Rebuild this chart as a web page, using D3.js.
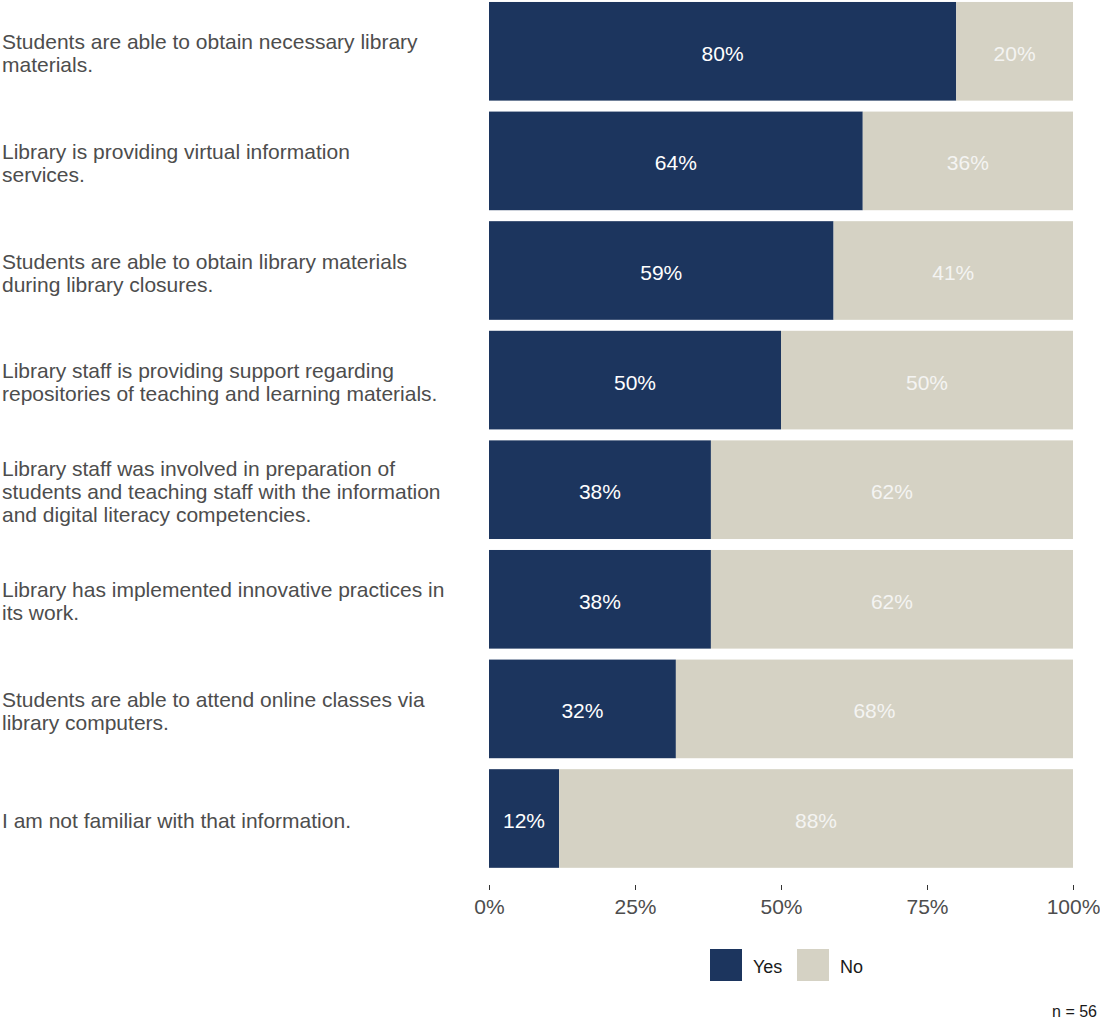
<!DOCTYPE html>
<html>
<head>
<meta charset="utf-8">
<script src="https://cdn.jsdelivr.net/npm/d3@7"></script>
<style>
  html, body { margin: 0; padding: 0; background: #ffffff; }
  svg { display: block; font-family: "Liberation Sans", Arial, sans-serif; }
</style>
</head>
<body>
<svg id="chart" width="1100" height="1021"></svg>
<script>
// Survey statements, one bar each (top to bottom), label lines pre-wrapped
const statements = [
  ["Students are able to obtain necessary library", "materials."],
  ["Library is providing virtual information", "services."],
  ["Students are able to obtain library materials", "during library closures."],
  ["Library staff is providing support regarding", "repositories of teaching and learning materials."],
  ["Library staff was involved in preparation of", "students and teaching staff with the information", "and digital literacy competencies."],
  ["Library has implemented innovative practices in", "its work."],
  ["Students are able to attend online classes via", "library computers."],
  ["I am not familiar with that information."]
];
// Share of answers, in percent
const yesValues = [80, 64, 59, 50, 38, 38, 32, 12];
const noValues  = [20, 36, 41, 50, 62, 62, 68, 88];
const answers = ["Yes", "No"];
const xTicks = [0, 25, 50, 75, 100];
const sampleNote = "n = 56";

const colors = { Yes: "#1c355e", No: "#d5d2c4" };
const labelColors = { Yes: "#ffffff", No: "#f4f4f2" };

const svg = d3.select("#chart");

const x = d3.scaleLinear().domain([0, 100]).range([489, 1073]);
const y = d3.scaleBand()
  .domain(d3.range(statements.length))
  .range([-3.5, 873.3])
  .paddingInner(0.1)
  .paddingOuter(0.05);

// stacked segments
const rows = statements.map((s, i) => ({ i, Yes: yesValues[i], No: noValues[i] }));
const stack = d3.stack().keys(answers)(rows);

const layers = svg.append("g").selectAll("g")
  .data(stack)
  .join("g")
  .attr("fill", d => colors[d.key]);

layers.selectAll("rect")
  .data(d => d.map(p => ({ key: d.key, p })))
  .join("rect")
  .attr("x", d => x(d.p[0]))
  .attr("width", d => x(d.p[1]) - x(d.p[0]))
  .attr("y", d => y(d.p.data.i))
  .attr("height", y.bandwidth());

// value labels centred in each segment
layers.selectAll("text")
  .data(d => d.map(p => ({ key: d.key, p })))
  .join("text")
  .attr("x", d => x((d.p[0] + d.p[1]) / 2))
  .attr("y", d => y(d.p.data.i) + y.bandwidth() / 2 + 2)
  .attr("dy", "0.36em")
  .attr("text-anchor", "middle")
  .attr("font-size", 21)
  .attr("fill", d => labelColors[d.key])
  .text(d => `${d.p.data[d.key]}%`);

// category labels on the left
const lineH = 23;
const cat = svg.append("g").attr("fill", "#4d4d4d").attr("font-size", 21);
statements.forEach((lines, i) => {
  const cy = y(i) + y.bandwidth() / 2;
  const t = cat.append("text").attr("x", 2);
  lines.forEach((ln, k) => {
    t.append("tspan")
      .attr("x", 2)
      .attr("y", cy + (k - (lines.length - 1) / 2) * lineH + 9.5)
      .text(ln);
  });
});

// bottom axis
const axis = svg.append("g")
  .attr("transform", "translate(0,885)")
  .call(d3.axisBottom(x).tickValues(xTicks).tickFormat(d => d + "%").tickSize(5).tickPadding(9));
axis.select(".domain").remove();
axis.selectAll(".tick line").attr("stroke", "#333333");
axis.selectAll(".tick text")
  .attr("fill", "#4d4d4d")
  .attr("font-size", 21)
  .attr("font-family", "Liberation Sans, Arial, sans-serif");

// legend
const legend = svg.append("g").attr("transform", "translate(710,949)");
const legendX = { Yes: 0, No: 87 };
answers.forEach(k => {
  const g = legend.append("g").attr("transform", `translate(${legendX[k]},0)`);
  g.append("rect").attr("width", 32).attr("height", 32).attr("fill", colors[k]);
  g.append("text")
    .attr("x", 43).attr("y", 18).attr("dy", "0.36em")
    .attr("font-size", 18).attr("fill", "#1a1a1a")
    .text(k);
});

// sample size note, bottom-right corner
svg.append("text")
  .attr("x", 1097).attr("y", 1017)
  .attr("text-anchor", "end")
  .attr("font-size", 16).attr("fill", "#1a1a1a")
  .text(sampleNote);
</script>
</body>
</html>
